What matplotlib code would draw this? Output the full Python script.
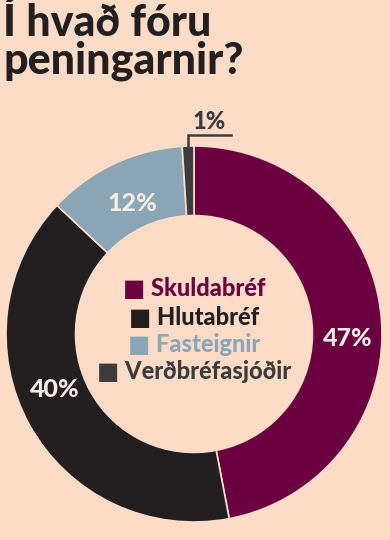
import numpy as np
import matplotlib.pyplot as plt

# data
categories = ['Skuldabréf', 'Hlutabréf', 'Fasteignir', 'Verðbréfasjóðir']
shares = [47, 40, 12, 1]
colors = ['#6B0041', '#231F20', '#89A5B6', '#3C3B3E']
title = 'Í hvað fóru\npeningarnir?'

bg = '#FCDCC6'
font = ['Lato', 'DejaVu Sans']

fig = plt.figure(figsize=(3.9, 5.4), dpi=100, facecolor=bg)
fig.text(0.008, 0.997, title, ha='left', va='top', fontsize=31, fontweight='black',
         family=font, color='#231F20', linespacing=0.95)

# donut centered at about (194, 334) px, radius 188 px
ax = fig.add_axes([6 / 390, 18 / 540, 376 / 390, 376 / 540])
ax.set_facecolor(bg)
wedges, _ = ax.pie(shares, colors=colors, startangle=90, counterclock=False, radius=1,
                   wedgeprops=dict(width=0.37, edgecolor=bg, linewidth=1.2))
ax.set_xlim(-1, 1)
ax.set_ylim(-1, 1)
ax.set_aspect('equal')
ax.axis('off')

# percentage labels inside the ring
label_r = [0.82, 0.80, 0.77]
label_shift = [-7, -7, 0]
for i, w in enumerate(wedges[:3]):
    mid = np.deg2rad((w.theta1 + w.theta2) / 2 + label_shift[i])
    r = label_r[i]
    ax.text(r * np.cos(mid), r * np.sin(mid), f'{shares[i]}%', ha='center', va='center',
            fontsize=18, fontweight='black', family=font, color='#F6EDE6')

# 1% label with leader line
w = wedges[3]
mid = np.deg2rad((w.theta1 + w.theta2) / 2)
x0, y0 = np.cos(mid), np.sin(mid)
ax.plot([x0, x0, x0 + 0.23], [y0, y0 + 0.06, y0 + 0.06], color='#3C3B3E', lw=1.8,
        clip_on=False, solid_joinstyle='miter')
ax.text(x0 + 0.11, y0 + 0.07, f'{shares[3]}%', ha='center', va='bottom', fontsize=17,
        fontweight='black', family=font, color='#3C3B3E', clip_on=False)

# legend in the hole
ys = [0.24, 0.09, -0.055, -0.20]
for name, c, y in zip(categories, colors, ys):
    ax.text(0, y, '■ ' + name, ha='center', va='center', fontsize=17, fontweight='black',
            family=font, color=c)

fig.savefig('out.png', dpi=100, facecolor=bg)
